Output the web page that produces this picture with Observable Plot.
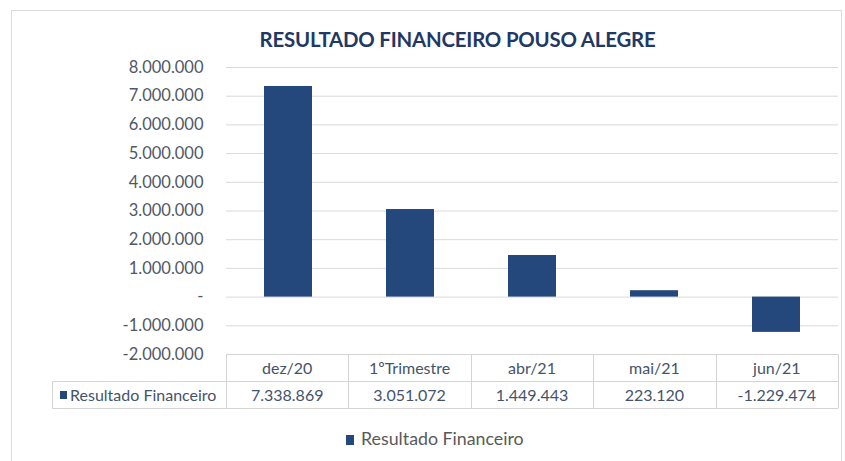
<!DOCTYPE html>
<html>
<head>
<meta charset="utf-8">
<script src="https://cdn.jsdelivr.net/npm/d3@7"></script>
<script src="https://cdn.jsdelivr.net/npm/@observablehq/plot@0.6"></script>
<style>
  body { margin: 0; background: #fff; font-family: Lato, "Noto Sans", sans-serif; }
  #wrap { position: relative; width: 845px; height: 461px; overflow: hidden; background: #fff; }
  #frame { position: absolute; left: 11px; top: 10px; width: 831px; height: 480px; border: 1px solid #dcdcdc; box-sizing: border-box; }
  #title { position: absolute; left: 0; top: 27px; width: 915px; text-align: center; font-weight: 700; font-size: 20.4px; color: #1f3864; letter-spacing: -0.2px; }
  #chart { position: absolute; left: 0; top: 0; }
  #legend { position: absolute; left: 346px; top: 427px; font-size: 17.8px; color: #595959; white-space: nowrap; }
  #legend span.sw { display: inline-block; width: 8px; height: 10px; background: #24477c; margin-right: 7px; vertical-align: 0px; }
</style>
</head>
<body>
<div id="wrap">
  <div id="frame"></div>
  <div id="chart"></div>
  <div id="title">RESULTADO FINANCEIRO POUSO ALEGRE</div>
  <div id="legend"><span class="sw"></span>Resultado Financeiro</div>
</div>
<script>
const seriesName = "Resultado Financeiro";
const categories = ["dez/20", "1ºTrimestre", "abr/21", "mai/21", "jun/21"];
const values = [7338869, 3051072, 1449443, 223120, -1229474];
const yTicks = [-2000000, -1000000, 0, 1000000, 2000000, 3000000, 4000000, 5000000, 6000000, 7000000, 8000000];

(function () {
const barColor = "#24477c";
const locale = d3.formatLocale({decimal: ",", thousands: ".", grouping: [3], currency: ["R$ ", ""], minus: "-"});
const fmt = locale.format(",.0f");
const tickFmt = d => d === 0 ? "-" : fmt(d);

const data = categories.map((c, i) => ({category: c, value: values[i]}));

const plot = Plot.plot({
  width: 845,
  height: 461,
  marginTop: 67,
  marginBottom: 107,
  marginLeft: 226,
  marginRight: 7,
  style: {background: "transparent", fontFamily: "Lato, 'Noto Sans', sans-serif", fontSize: "16.5px", color: "#505866", overflow: "visible"},
  x: {domain: categories, paddingInner: 0.61, paddingOuter: 0.305, axis: null},
  y: {domain: [-2000000, 8000000], ticks: yTicks, tickFormat: tickFmt, tickSize: 0, tickPadding: 23, label: null},
  marks: [
    Plot.ruleY(yTicks, {stroke: "#d9d9d9", strokeWidth: 1}),
    Plot.barY(data, {x: "category", y: "value", fill: barColor})
  ]
});
document.getElementById("chart").appendChild(plot);

// data table under the plot, aligned on Plot's own scales
const xs = plot.scale("x");
const ys = plot.scale("y");
const band = d3.scaleBand().domain(xs.domain).range(xs.range)
  .paddingInner(xs.paddingInner).paddingOuter(xs.paddingOuter).align(xs.align ?? 0.5);
const step = band.step();
const yLin = d3.scaleLinear().domain(ys.domain).range(ys.range);
const x0 = Math.min(...xs.range), x1 = Math.max(...xs.range);
const tableTop = Math.round(yLin(yTicks[0])) + 0.5;
const rowH = 27;
const labelLeft = 52.5;
const svg = d3.select(plot);
const g = svg.append("g").attr("stroke", "#d4d4d4").attr("stroke-width", 1);
g.append("line").attr("x1", x0).attr("x2", x1).attr("y1", tableTop).attr("y2", tableTop);
g.append("line").attr("x1", labelLeft).attr("x2", x1).attr("y1", tableTop + rowH).attr("y2", tableTop + rowH);
g.append("line").attr("x1", labelLeft).attr("x2", x1).attr("y1", tableTop + 2 * rowH).attr("y2", tableTop + 2 * rowH);
g.append("line").attr("x1", labelLeft).attr("x2", labelLeft).attr("y1", tableTop + rowH).attr("y2", tableTop + 2 * rowH);
const bounds = categories.map(c => band(c) + band.bandwidth() / 2 - step / 2);
bounds.push(bounds[bounds.length - 1] + step);
for (const bx of bounds) {
  const xx = Math.round(bx) + 0.5;
  g.append("line").attr("x1", xx).attr("x2", xx).attr("y1", tableTop).attr("y2", tableTop + 2 * rowH);
}
const t = svg.append("g").attr("fill", "#44546a").attr("font-size", "16px").attr("text-anchor", "middle");
categories.forEach((c, i) => {
  const cx = band(c) + band.bandwidth() / 2;
  t.append("text").attr("x", cx).attr("y", tableTop + rowH / 2).attr("dy", "0.35em").text(c);
  t.append("text").attr("x", cx).attr("y", tableTop + rowH * 1.5).attr("dy", "0.35em").text(fmt(values[i]));
});
svg.append("rect").attr("x", 60).attr("y", tableTop + rowH * 1.5 - 4).attr("width", 7).attr("height", 8).attr("fill", barColor);
svg.append("text").attr("x", 70).attr("y", tableTop + rowH * 1.5).attr("dy", "0.35em")
  .attr("text-anchor", "start")
  .attr("fill", "#44546a").attr("font-size", "16px").text(seriesName);
})();
</script>
</body>
</html>
